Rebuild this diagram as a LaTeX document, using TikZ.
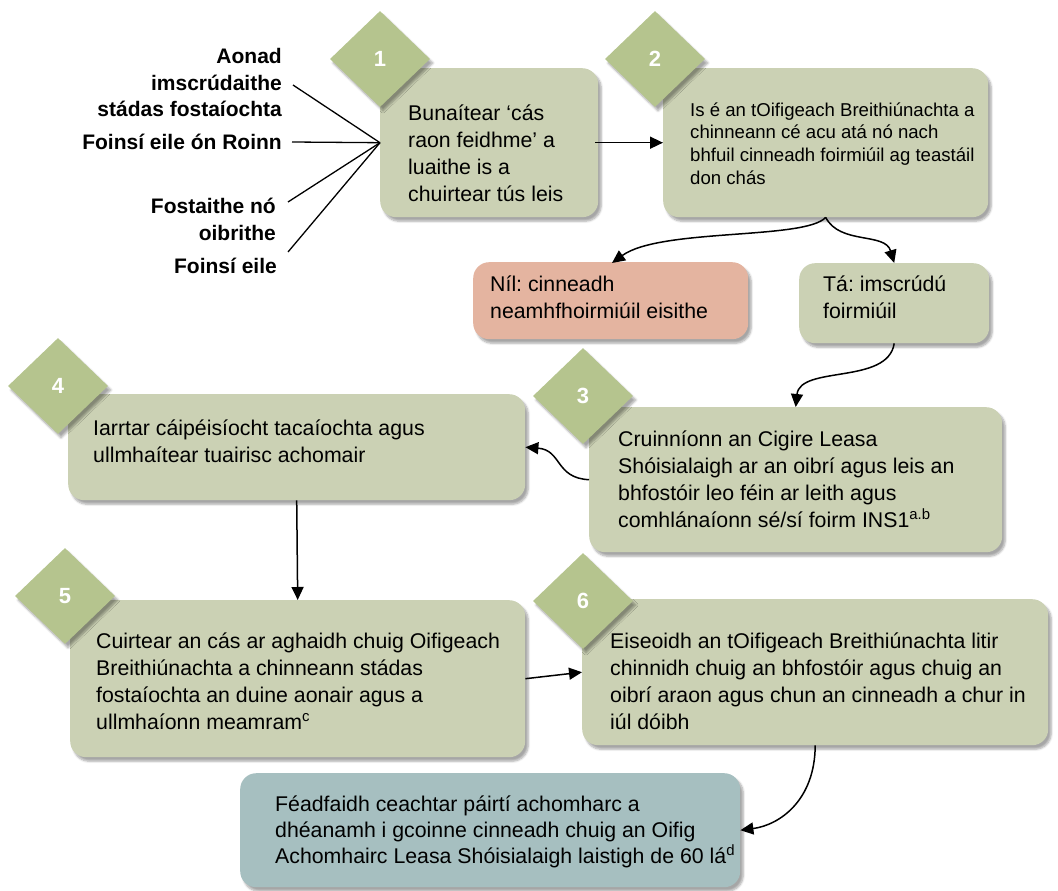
\documentclass[tikz,border=0pt]{standalone}
\usepackage{fontspec}
\setmainfont{Liberation Sans}
\usetikzlibrary{arrows.meta,shapes.geometric,shadows.blur}
\definecolor{boxc}{HTML}{CBD1B4}
\definecolor{diac}{HTML}{B5C48E}
\definecolor{nilc}{HTML}{E4B4A0}
\definecolor{finc}{HTML}{A6BFC0}
\frenchspacing
\tikzset{
  shad/.style={blur shadow={shadow xshift=3pt, shadow yshift=-4pt, shadow blur steps=6, shadow opacity=35}},
  card/.style={rounded corners=16pt, fill=boxc, draw=none, inner sep=0pt, anchor=north west, shad},
  dia/.style={diamond, fill=diac, draw=none, minimum width=100pt, minimum height=96pt, inner sep=0pt, shad,
    text=white, font=\bfseries\fontsize{22}{24}\selectfont},
  txt/.style={anchor=north west, inner sep=0pt, align=left, font=\fontsize{21.3}{27}\selectfont},
  txts/.style={anchor=north west, inner sep=0pt, align=left, font=\fontsize{18.6}{22.7}\selectfont},
  lab/.style={anchor=north east, inner sep=0pt, align=right, font=\bfseries\fontsize{21}{26.7}\selectfont},
  conn/.style={line width=1.5pt, -{Triangle[length=13pt,width=12pt]}},
  feed/.style={line width=1.3pt}
}
\begin{document}
\begin{tikzpicture}[x=1pt,y=-1pt]
\useasboundingbox (0,0) rectangle (1058,891);
% boxes
\node[card, minimum width=218pt, minimum height=149pt] (b1) at (380,68) {};
\node[card, minimum width=325pt, minimum height=149pt] (b2) at (663,68) {};
\node[card, fill=nilc, minimum width=275pt, minimum height=77pt] (nil) at (473,262) {};
\node[card, minimum width=190pt, minimum height=80pt] (ta) at (799,263) {};
\node[card, minimum width=413pt, minimum height=145pt] (b3) at (589,407) {};
\node[card, minimum width=457pt, minimum height=106pt] (b4) at (68,394) {};
\node[card, minimum width=455pt, minimum height=157pt] (b5) at (70,600) {};
\node[card, minimum width=466pt, minimum height=146pt] (b6) at (582,599) {};
\node[card, fill=finc, minimum width=500pt, minimum height=114pt] (fin) at (240,773) {};
% texts
\node[txt] (t1) at (408,101) {\strut Bunaítear ‘cás\\raon feidhme’ a\\luaithe is a\\chuirtear tús leis};
\node[txts] (t2) at (690,100) {\strut Is é an tOifigeach Breithiúnachta a\\chinneann cé acu atá nó nach\\bhfuil cinneadh foirmiúil ag teastáil\\don chás};
\node[txt] (tn) at (490,272) {\strut Níl: cinneadh\\neamhfhoirmiúil eisithe};
\node[txt] (tt) at (823,272) {\strut Tá: imscrúdú\\foirmiúil};
\node[txt] (t3) at (618,427) {\strut Cruinníonn an Cigire Leasa\\Shóisialaigh ar an oibrí agus leis an\\bhfostóir leo féin ar leith agus\\comhlánaíonn sé/sí foirm INS1\textsuperscript{a.b}};
\node[txt] (t4) at (93,416) {\strut Iarrtar cáipéisíocht tacaíochta agus\\ullmhaítear tuairisc achomair};
\node[txt] (t5) at (96,629) {\strut Cuirtear an cás ar aghaidh chuig Oifigeach\\Breithiúnachta a chinneann stádas\\fostaíochta an duine aonair agus a\\ullmhaíonn meamram\textsuperscript{c}};
\node[txt] (t6) at (610,629) {\strut Eiseoidh an tOifigeach Breithiúnachta litir\\chinnidh chuig an bhfostóir agus chuig an\\oibrí araon agus chun an cinneadh a chur in\\iúl dóibh};
\node[txt, font=\fontsize{21.3}{26}\selectfont] (tf) at (275,793) {\strut Féadfaidh ceachtar páirtí achomharc a\\dhéanamh i gcoinne cinneadh chuig an Oifig\\Achomhairc Leasa Shóisialaigh laistigh de 60 lá\textsuperscript{d}};
% diamonds
\node[dia] (d1) at (380,59) {1};
\node[dia] (d2) at (655,59) {2};
\node[dia] (d3) at (583,396) {3};
\node[dia] (d4) at (58,386) {4};
\node[dia] (d5) at (65,596) {5};
\node[dia] (d6) at (583,601) {6};
% labels
\node[lab] (l1) at (282,44.5) {\strut Aonad\\imscrúdaithe\\stádas fostaíochta};
\node[lab] (l2) at (282,130.5) {\strut Foinsí eile ón Roinn};
\node[lab] (l3) at (276,194.5) {\strut Fostaithe nó\\oibrithe};
\node[lab] (l4) at (277,254.5) {\strut Foinsí eile};
\coordinate (s1) at (293,85);
\coordinate (s2) at (292,142);
\coordinate (s3) at (288,202);
\coordinate (s4) at (288,252);
\coordinate (hub) at (b1.west);
\draw[feed] (s1) -- (hub);
\draw[feed] (s2) -- (hub);
\draw[feed] (s3) -- (hub);
\draw[feed] (s4) -- (hub);
% connectors
\draw[conn] ([xshift=-3pt]b1.east) -- (b2.west);
\draw[conn] (b2.south) .. controls (805,240) and (660,228) .. (612,263);
\draw[conn] (b2.south) .. controls (840,245) and (885,232) .. (ta.north);
\draw[conn] (ta.south) .. controls (888,385) and (800,365) .. (b3.north);
\draw[conn] (b3.west) .. controls (555,478) and (562,450) .. (b4.east);
\draw[conn] (b4.south) -- (b5.north);
\draw[conn] (b5.east) -- (b6.west);
\draw[conn] (b6.south) .. controls (815,800) and (780,825) .. (fin.east);
\end{tikzpicture}
\end{document}
